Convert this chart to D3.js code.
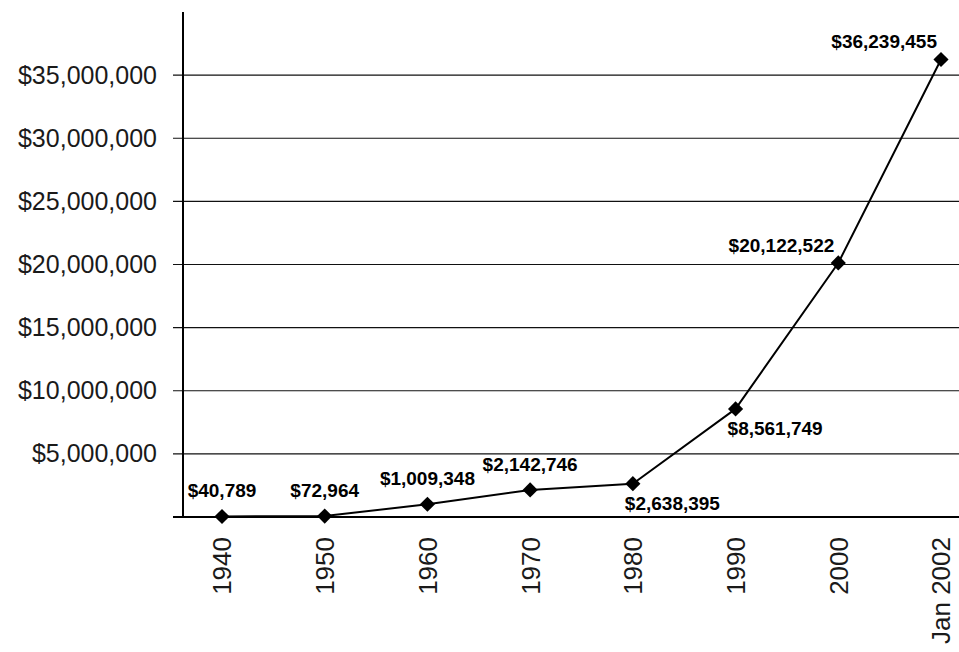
<!DOCTYPE html>
<html>
<head>
<meta charset="utf-8">
<script src="https://cdn.jsdelivr.net/npm/d3@7"></script>
<style>
  html, body { margin: 0; padding: 0; background: #fff; }
  svg { display: block; }
</style>
</head>
<body>
<svg id="chart" width="959" height="652"></svg>
<script>
// ---- data ----
const categories = ["1940", "1950", "1960", "1970", "1980", "1990", "2000", "Jan 2002"];
const values = [40789, 72964, 1009348, 2142746, 2638395, 8561749, 20122522, 36239455];
const yTicks = [5000000, 10000000, 15000000, 20000000, 25000000, 30000000, 35000000];
const labelPlacement = ["above", "above", "above", "above", "belowRight", "belowRight", "aboveLeft", "aboveLeft"];

// ---- layout ----
const W = 959, H = 652;
const axisX = 183, plotTop = 12, baseY = 517, plotRight = 959;

const svg = d3.select("#chart");

const x = d3.scalePoint().domain(categories).range([222, 941]);
const y = d3.scaleLinear().domain([0, 40000000]).range([baseY, plotTop]);

const fmt = d3.format(",");

// gridlines
svg.append("g").selectAll("line").data(yTicks).join("line")
  .attr("x1", axisX - 10).attr("x2", plotRight)
  .attr("y1", d => y(d)).attr("y2", d => y(d))
  .attr("stroke", "#111").attr("stroke-width", 1.2);

// y axis (labels)
const yAxis = svg.append("g").attr("transform", `translate(${axisX},0)`)
  .call(d3.axisLeft(y).tickValues(yTicks).tickSize(0).tickPadding(26).tickFormat(d => "$" + fmt(d)));
yAxis.select(".domain").remove();
yAxis.selectAll("text")
  .attr("font-family", "'Liberation Sans', Arial, sans-serif")
  .attr("font-size", 25).attr("fill", "#1a1a1a");

// y axis line
svg.append("line")
  .attr("x1", axisX).attr("x2", axisX)
  .attr("y1", plotTop).attr("y2", baseY)
  .attr("stroke", "#000").attr("stroke-width", 2);

// baseline
svg.append("line")
  .attr("x1", axisX - 10).attr("x2", plotRight)
  .attr("y1", baseY).attr("y2", baseY)
  .attr("stroke", "#000").attr("stroke-width", 2);

// x labels
svg.append("g").selectAll("text").data(categories).join("text")
  .attr("transform", d => `translate(${x(d)},${baseY + 20}) rotate(-90)`)
  .attr("text-anchor", "end").attr("dy", "0.36em")
  .attr("font-family", "'Liberation Sans', Arial, sans-serif")
  .attr("font-size", 26).attr("fill", "#1a1a1a")
  .text(d => d);

// line
const pts = categories.map((c, i) => ({ c, v: values[i], p: labelPlacement[i] }));
svg.append("path").datum(pts)
  .attr("fill", "none").attr("stroke", "#000").attr("stroke-width", 2)
  .attr("stroke-linejoin", "round")
  .attr("d", d3.line().x(d => x(d.c)).y(d => y(d.v)));

// markers
svg.append("g").selectAll("path").data(pts).join("path")
  .attr("transform", d => `translate(${x(d.c)},${y(d.v)}) rotate(45)`)
  .attr("d", d3.symbol().type(d3.symbolSquare).size(115))
  .attr("fill", "#000");

// value labels
const off = {
  above: { dx: 0, dy: -19, anchor: "middle" },
  belowRight: { dx: -8, dy: 26, anchor: "start" },
  aboveLeft: { dx: -4, dy: -11, anchor: "end" }
};
svg.append("g").selectAll("text").data(pts).join("text")
  .attr("x", d => x(d.c) + off[d.p].dx)
  .attr("y", d => y(d.v) + off[d.p].dy)
  .attr("text-anchor", d => off[d.p].anchor)
  .attr("font-family", "'Liberation Sans', Arial, sans-serif")
  .attr("font-weight", "bold").attr("font-size", 19).attr("fill", "#000")
  .text(d => "$" + fmt(d.v));
</script>
</body>
</html>
